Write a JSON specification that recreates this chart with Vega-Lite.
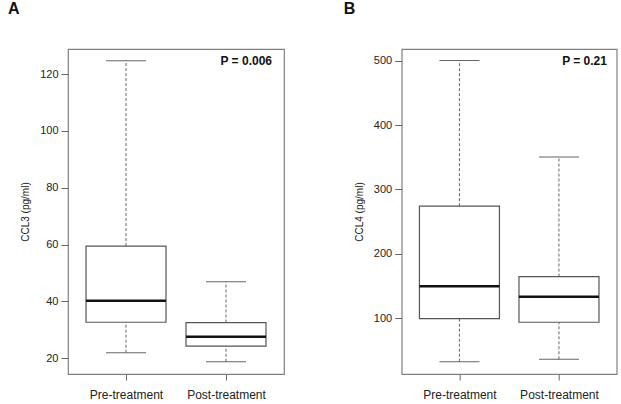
{
  "$schema": "https://vega.github.io/schema/vega-lite/v6.json",
  "padding": {"left": 7, "top": 0, "right": 5, "bottom": 0},
  "spacing": 117.7,
  "bounds": "flush",
  "config": {
    "font": "Liberation Sans",
    "view": {"stroke": "#808080", "strokeWidth": 1.2},
    "axis": {"domain": false, "grid": false, "tickColor": "#666", "labelColor": "#222", "titleColor": "#222", "titleFontWeight": "normal"},
    "axisY": {"tickSize": 7, "labelFontSize": 11, "labelPadding": 3, "titleFontSize": 10, "titlePadding": 9},
    "axisX": {"tickSize": 6, "labelFontSize": 12, "labelPadding": 9, "labelAngle": 0}
  },
  "hconcat": [
    {
      "width": 216,
      "height": 325,
      "title": {"text": "A", "anchor": "start", "frame": "group", "dx": -60, "offset": 32, "fontSize": 16, "fontWeight": "bold", "color": "#111"},
      "data": {"values": [
        {"group": "Pre-treatment", "min": 22.0, "q1": 32.7, "median": 40.3, "q3": 59.5, "max": 124.7},
        {"group": "Post-treatment", "min": 18.8, "q1": 24.3, "median": 27.6, "q3": 32.6, "max": 46.9}
      ]},
      "encoding": {
        "x": {"field": "group", "type": "nominal", "title": null, "sort": ["Pre-treatment", "Post-treatment"],
              "scale": {"type": "point", "padding": 0.58, "domain": ["Pre-treatment", "Post-treatment"]}}
      },
      "layer": [
        {"mark": {"type": "rule", "strokeDash": [3, 2], "color": "#666", "strokeWidth": 1},
         "encoding": {"y": {"field": "min", "type": "quantitative", "title": "CCL3 (pg/ml)", "scale": {"domain": [14.5, 128.8], "nice": false, "zero": false}, "axis": {"values": [20, 40, 60, 80, 100, 120]}}, "y2": {"field": "q1"}}},
        {"mark": {"type": "rule", "strokeDash": [3, 2], "color": "#666", "strokeWidth": 1},
         "encoding": {"y": {"field": "q3", "type": "quantitative"}, "y2": {"field": "max"}}},
        {"mark": {"type": "tick", "size": 40, "thickness": 1, "color": "#666", "opacity": 1},
         "encoding": {"y": {"field": "min", "type": "quantitative"}}},
        {"mark": {"type": "tick", "size": 40, "thickness": 1, "color": "#666", "opacity": 1},
         "encoding": {"y": {"field": "max", "type": "quantitative"}}},
        {"mark": {"type": "bar", "width": 80, "fill": "white", "stroke": "#555", "strokeWidth": 1.2},
         "encoding": {"y": {"field": "q1", "type": "quantitative"}, "y2": {"field": "q3"}}},
        {"mark": {"type": "tick", "size": 80, "thickness": 2.5, "color": "#111", "opacity": 1},
         "encoding": {"y": {"field": "median", "type": "quantitative"}}},
        {"data": {"values": [{"group": "Post-treatment", "pos": 124.7, "label": "P = 0.006"}]},
         "mark": {"type": "text", "align": "right", "baseline": "middle", "dx": 46, "fontSize": 12, "fontWeight": "bold", "color": "#111"},
         "encoding": {"y": {"field": "pos", "type": "quantitative"}, "text": {"field": "label"}}}
      ]
    },
    {
      "width": 215,
      "height": 325,
      "title": {"text": "B", "anchor": "start", "frame": "group", "dx": -58, "offset": 32, "fontSize": 16, "fontWeight": "bold", "color": "#111"},
      "data": {"values": [
        {"group": "Pre-treatment", "min": 32.6, "q1": 99.4, "median": 149.7, "q3": 274, "max": 500},
        {"group": "Post-treatment", "min": 36.3, "q1": 93.8, "median": 133.5, "q3": 164.8, "max": 350.3}
      ]},
      "encoding": {
        "x": {"field": "group", "type": "nominal", "title": null, "sort": ["Pre-treatment", "Post-treatment"],
              "scale": {"type": "point", "padding": 0.58, "domain": ["Pre-treatment", "Post-treatment"]}}
      },
      "layer": [
        {"mark": {"type": "rule", "strokeDash": [3, 2], "color": "#666", "strokeWidth": 1},
         "encoding": {"y": {"field": "min", "type": "quantitative", "title": "CCL4 (pg/ml)", "scale": {"domain": [13.5, 518], "nice": false, "zero": false}, "axis": {"values": [100, 200, 300, 400, 500]}}, "y2": {"field": "q1"}}},
        {"mark": {"type": "rule", "strokeDash": [3, 2], "color": "#666", "strokeWidth": 1},
         "encoding": {"y": {"field": "q3", "type": "quantitative"}, "y2": {"field": "max"}}},
        {"mark": {"type": "tick", "size": 40, "thickness": 1, "color": "#666", "opacity": 1},
         "encoding": {"y": {"field": "min", "type": "quantitative"}}},
        {"mark": {"type": "tick", "size": 40, "thickness": 1, "color": "#666", "opacity": 1},
         "encoding": {"y": {"field": "max", "type": "quantitative"}}},
        {"mark": {"type": "bar", "width": 80, "fill": "white", "stroke": "#555", "strokeWidth": 1.2},
         "encoding": {"y": {"field": "q1", "type": "quantitative"}, "y2": {"field": "q3"}}},
        {"mark": {"type": "tick", "size": 80, "thickness": 2.5, "color": "#111", "opacity": 1},
         "encoding": {"y": {"field": "median", "type": "quantitative"}}},
        {"data": {"values": [{"group": "Post-treatment", "pos": 500, "label": "P = 0.21"}]},
         "mark": {"type": "text", "align": "right", "baseline": "middle", "dx": 48, "fontSize": 12, "fontWeight": "bold", "color": "#111"},
         "encoding": {"y": {"field": "pos", "type": "quantitative"}, "text": {"field": "label"}}}
      ]
    }
  ]
}
